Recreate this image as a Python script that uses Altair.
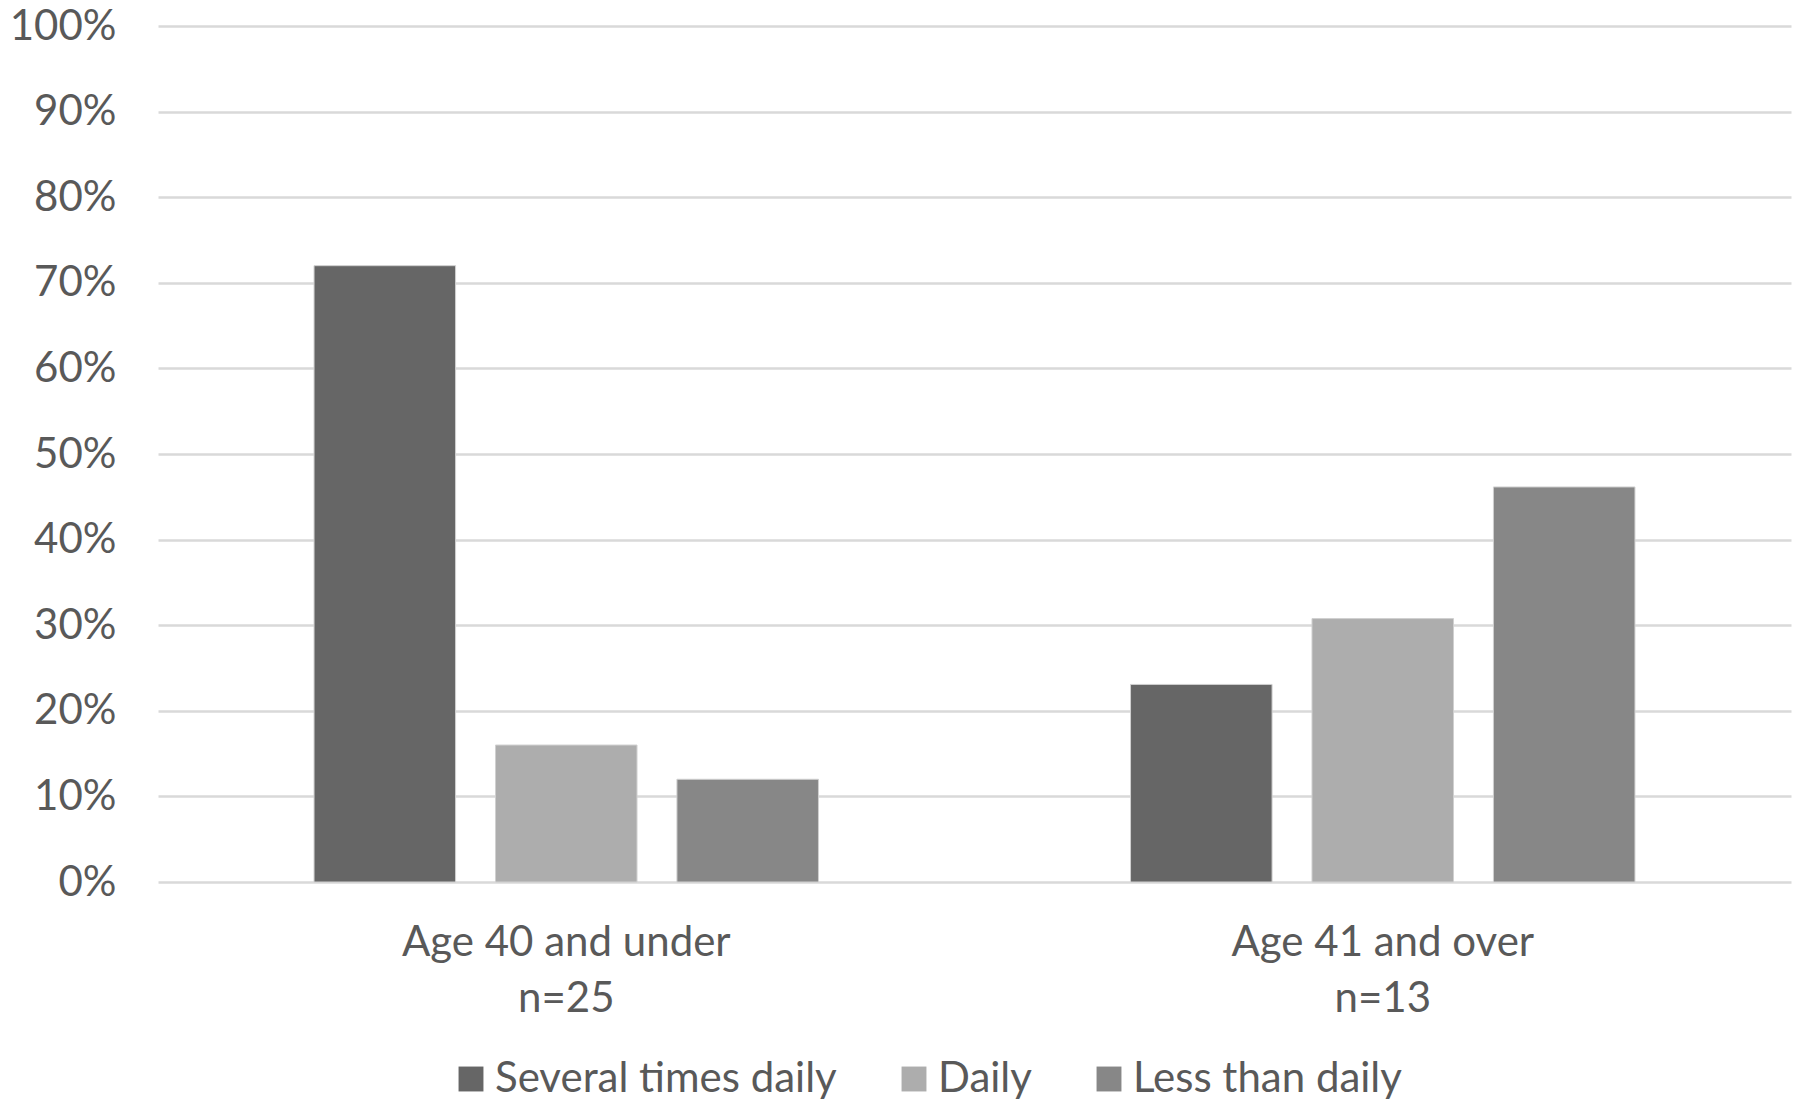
import altair as alt
import pandas as pd

groups = ["Age 40 and under\nn=25", "Age 41 and over\nn=13"]
series = ["Several times daily", "Daily", "Less than daily"]
values_under40 = [0.72, 0.16, 0.12]
values_over41 = [0.2308, 0.3077, 0.4615]
colors = ["#666666", "#adadad", "#878787"]

rows = []
for g, vals in zip(groups, [values_under40, values_over41]):
    for s, v in zip(series, vals):
        rows.append({"group": g, "series": s, "value": v})
df = pd.DataFrame(rows)

FONT = "Lato"
TXT = "#595959"

chart = alt.Chart(df).mark_bar(stroke="#d0d0d0", strokeWidth=1).encode(
    x=alt.X("group:N", sort=groups,
            scale=alt.Scale(paddingInner=0, paddingOuter=0),
            axis=alt.Axis(title=None, labelAngle=0, domain=False, ticks=False,
                          labelFont=FONT, labelFontSize=42, labelColor=TXT,
                          labelPadding=40, labelLineHeight=56, labelLimit=800,
                          labelExpr="split(datum.label, '\\n')")),
    xOffset=alt.XOffset("series:N", sort=series,
                        scale=alt.Scale(paddingInner=0.22, paddingOuter=0.86)),
    y=alt.Y("value:Q", scale=alt.Scale(domain=[0, 1]),
            axis=alt.Axis(title=None, format=".0%", values=[i / 10 for i in range(11)],
                          domain=False, ticks=False, grid=True,
                          gridColor="#d9d9d9", gridWidth=2.5,
                          labelFont=FONT, labelFontSize=42, labelColor=TXT,
                          labelPadding=42)),
    color=alt.Color("series:N", sort=series,
                    scale=alt.Scale(domain=series, range=colors),
                    legend=alt.Legend(title=None, orient="none", direction="horizontal",
                                      legendX=292, legendY=1032, columns=3,
                                      symbolType="square", symbolSize=620,
                                      symbolStrokeWidth=0, columnPadding=56,
                                      labelFont=FONT, labelFontSize=42,
                                      labelColor=TXT, labelOffset=3, labelLimit=600)),
).properties(
    width=1633, height=856,
    autosize=alt.AutoSizeParams(type="none"),
    padding={"left": 150, "top": 18, "right": 1, "bottom": 218},
    background="white",
).configure_view(stroke=None)

chart.save("out.html", embed_options={"renderer": "svg", "actions": False})
